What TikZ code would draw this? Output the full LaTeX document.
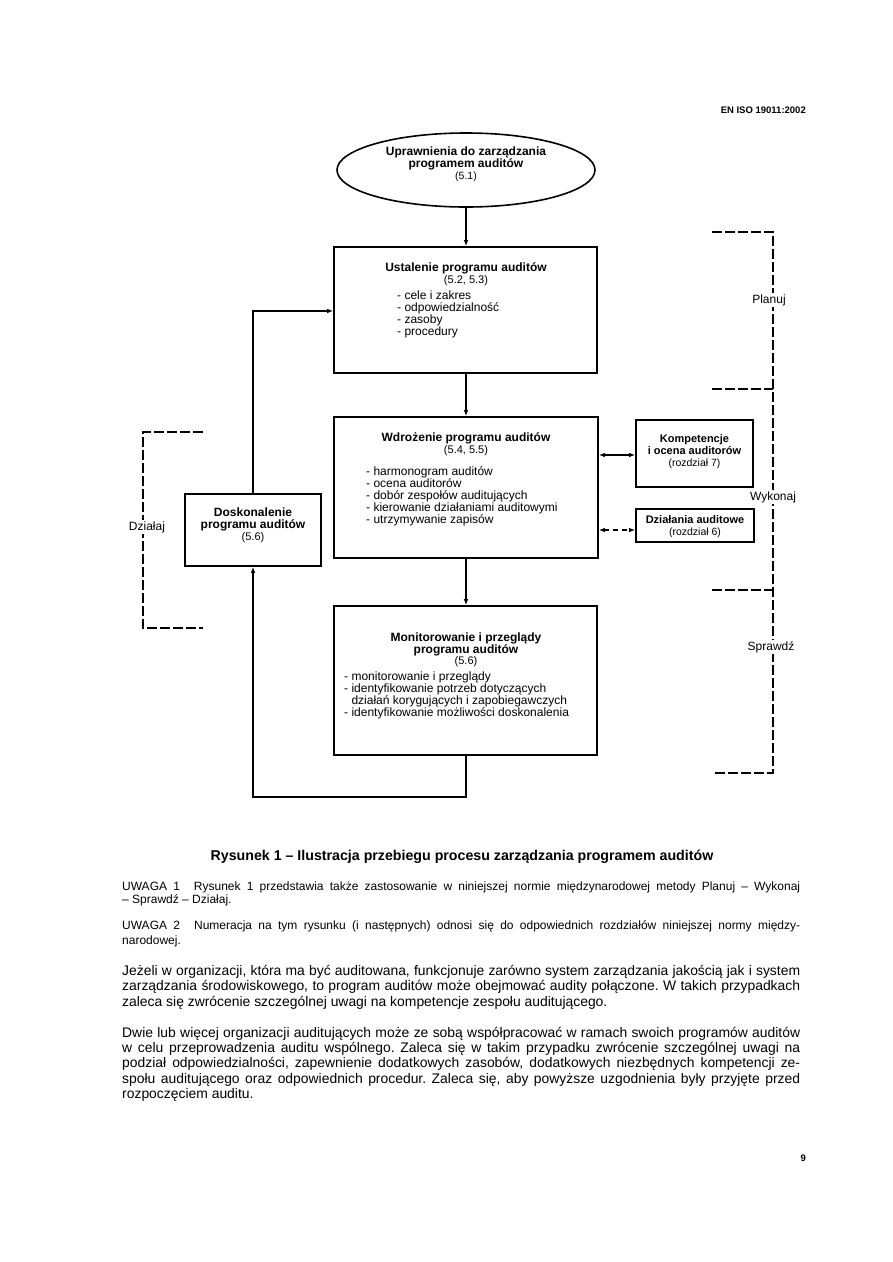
\documentclass[tikz,border=0pt]{standalone}
\usepackage{fontspec}
\setmainfont{Liberation Sans}
\usetikzlibrary{arrows.meta,shapes.geometric}
\newcommand\fsz[2]{\fontsize{#1}{#2}\selectfont}
\frenchspacing
\begin{document}
\begin{tikzpicture}[x=1pt,y=-1pt,
  box/.style={draw,line width=1.6pt,inner sep=0pt},
  conn/.style={line width=1.3pt,-{Latex[length=6pt,width=4.5pt]}},
  dconn/.style={line width=1.3pt,{Latex[length=6pt,width=4.5pt]}-{Latex[length=6pt,width=4.5pt]}},
  brk/.style={line width=1.1pt,dash pattern=on 10pt off 3pt},
  ttl/.style={font=\fsz{12}{12}\bfseries,align=center,inner sep=0pt,anchor=north},
  lst/.style={font=\fsz{12}{12}\frenchspacing,align=left,inner sep=0pt,anchor=north west},
  lbl/.style={font=\fsz{12}{12},fill=white,inner sep=1.5pt},
  ln/.style={anchor=base west,inner sep=0pt,font=\fsz{13.9}{15}\frenchspacing},
  nt/.style={anchor=base west,inner sep=0pt,font=\fsz{12}{13}\frenchspacing},
]
\path[use as bounding box,fill=white] (0,0) rectangle (893,1262);

% header and page number
\node[anchor=base east,inner sep=0pt,font=\fsz{9.5}{11}\bfseries] (hdr) at (806,113) {EN ISO 19011:2002};
\node[anchor=base east,inner sep=0pt,font=\fsz{9.5}{11}\bfseries] (pgn) at (806,1161) {9};

% ellipse
\node[draw,ellipse,line width=1.6pt,minimum width=258pt,minimum height=74pt,inner sep=0pt] (ell) at (466,170) {};
\node[ttl] (ellt) at (466,147) {Uprawnienia do zarządzania\\programem auditów\\{\mdseries\fsz{10.5}{12}(5.1)}};

% main boxes
\node[box,minimum width=263pt,minimum height=126pt] (b1) at (465.5,310) {};
\node[ttl] (b1t) at (466,262) {Ustalenie programu auditów\\{\mdseries\fsz{11}{12}(5.2, 5.3)}};
\node[lst] (b1l) at (397,291) {- cele i zakres\\- odpowiedzialność\\- zasoby\\- procedury};

\node[box,minimum width=264pt,minimum height=141pt] (b2) at (466,487.5) {};
\node[ttl] (b2t) at (466,432) {Wdrożenie programu auditów\\{\mdseries\fsz{11}{12}(5.4, 5.5)}};
\node[lst] (b2l) at (366,466) {- harmonogram auditów\\- ocena auditorów\\- dobór zespołów auditujących\\- kierowanie działaniami auditowymi\\- utrzymywanie zapisów};

\node[box,minimum width=263pt,minimum height=149pt] (b3) at (465.5,680.5) {};
\node[ttl,font=\fsz{12}{11.5}\bfseries] (b3t) at (466,633) {Monitorowanie i przeglądy\\programu auditów\\{\mdseries\fsz{11}{11.5}(5.6)}};
\node[lst] (b3l) at (344,672) {- monitorowanie i przeglądy\\- identyfikowanie potrzeb dotyczących\\\phantom{- }działań korygujących i zapobiegawczych\\- identyfikowanie możliwości doskonalenia};

% side boxes
\node[box,minimum width=136pt,minimum height=72pt] (dosk) at (253,530) {};
\node[ttl] (doskt) at (253,508) {Doskonalenie\\programu auditów\\{\mdseries\fsz{11}{12}(5.6)}};

\node[box,minimum width=117pt,minimum height=67pt] (komp) at (694.5,453.5) {};
\node[ttl,font=\fsz{11}{12}\bfseries] (kompt) at (694.5,434) {Kompetencje\\i ocena auditorów\\{\mdseries\fsz{10.5}{12}(rozdział 7)}};

\node[box,minimum width=118pt,minimum height=33pt] (dzial) at (695,525.5) {};
\node[ttl,font=\fsz{11}{11.5}\bfseries] (dzialt) at (695,515.5) {Działania auditowe\\{\mdseries\fsz{10.5}{11.5}(rozdział 6)}};

% connectors
\draw[conn] (ell.south) -- (ell.south |- b1.north);
\draw[conn] (b1.south -| ell.south) -- (b2.north -| ell.south);
\draw[conn] (b2.south -| ell.south) -- (b3.north -| ell.south);
\coordinate (fb) at (253,797);
\coordinate (fu) at (253,311);
\draw[conn] (b3.south -| ell.south) |- (fb) -- (dosk.south);
\draw[conn] (dosk.north) -- (fu) -- (fu -| b1.west);
\draw[dconn] (b2.east |- 0,455) -- (komp.west |- 0,455);
\draw[dconn,dash pattern=on 5pt off 4pt] (b2.east |- 0,530) -- (dzial.west |- 0,530);

% left bracket (Działaj)
\coordinate (la) at (203,432);
\coordinate (lb) at (143,432);
\coordinate (lc) at (143,628);
\coordinate (ld) at (203,628);
\draw[brk] (la) -- (lb) -- (lc) -- (ld);
\node[lbl] (dzl) at (147,527) {Działaj};

% right bracket (Planuj / Wykonaj / Sprawdź)
\coordinate (ra) at (712,232);
\coordinate (rb) at (773,232);
\coordinate (rc) at (773,773);
\coordinate (rd) at (712,773);
\coordinate (re) at (712,389);
\coordinate (rf) at (773,389);
\coordinate (rg) at (712,590);
\coordinate (rh) at (773,590);
\draw[brk] (ra) -- (rb) -- (rc) -- (rd);
\draw[brk] (re) -- (rf);
\draw[brk] (rg) -- (rh);
\node[lbl] (pla) at (769,300) {Planuj};
\node[lbl] (wyk) at (773,497) {Wykonaj};
\node[lbl] (spr) at (771,647) {Sprawdź};

% caption
\node[anchor=base,inner sep=0pt,font=\fsz{14.2}{15}\bfseries] (cap) at (462,860) {Rysunek 1 – Ilustracja przebiegu procesu zarządzania programem auditów};

% notes
\node[nt] (n1a) at (122,890) {\makebox[678pt][s]{UWAGA 1\hspace{14pt}Rysunek 1 przedstawia także zastosowanie w niniejszej normie międzynarodowej metody Planuj – Wykonaj}};
\node[nt] (n1b) at (122,903) {– Sprawdź – Działaj.};
\node[nt] (n2a) at (122,929) {\makebox[678pt][s]{UWAGA 2\hspace{14pt}Numeracja na tym rysunku (i następnych) odnosi się do odpowiednich rozdziałów niniejszej normy między-}};
\node[nt] (n2b) at (122,944) {narodowej.};

% paragraphs
\node[ln] (p1a) at (122,975) {\makebox[678pt][s]{Jeżeli w organizacji, która ma być auditowana, funkcjonuje zarówno system zarządzania jakością jak i system}};
\node[ln] (p1b) at (122,990) {\makebox[678pt][s]{zarządzania środowiskowego, to program auditów może obejmować audity połączone. W takich przypadkach}};
\node[ln] (p1c) at (122,1006) {zaleca się zwrócenie szczególnej uwagi na kompetencje zespołu auditującego.};

\node[ln] (p2a) at (122,1037) {\makebox[678pt][s]{Dwie lub więcej organizacji auditujących może ze sobą współpracować w ramach swoich programów auditów}};
\node[ln] (p2b) at (122,1052) {\makebox[678pt][s]{w celu przeprowadzenia auditu wspólnego. Zaleca się w takim przypadku zwrócenie szczególnej uwagi na}};
\node[ln] (p2c) at (122,1067) {\makebox[678pt][s]{podział odpowiedzialności, zapewnienie dodatkowych zasobów, dodatkowych niezbędnych kompetencji ze-}};
\node[ln] (p2d) at (122,1083) {\makebox[678pt][s]{społu auditującego oraz odpowiednich procedur. Zaleca się, aby powyższe uzgodnienia były przyjęte przed}};
\node[ln] (p2e) at (122,1098) {rozpoczęciem auditu.};
\end{tikzpicture}
\end{document}
